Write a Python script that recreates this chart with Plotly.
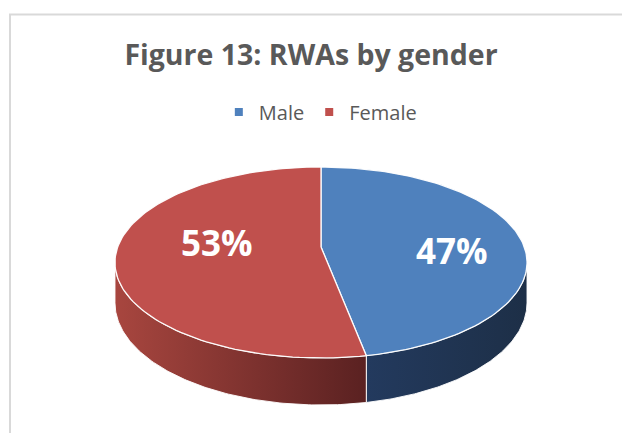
import math
import plotly.graph_objects as go

# ---- data ----
categories = ["Male", "Female"]
values = [47, 53]
label_texts = ["47%", "53%"]

# ---- style ----
top_colors = ["#4f81bd", "#c0504d"]
side_scales = [
    [[0, "#233a5e"], [1, "#1d2f47"]],
    [[0, "#a8463f"], [1, "#5a2121"]],
]
W, H = 622, 433
CX, CY = 321, 247          # projected pie centre (px)
A, B = 203.3, 93.0         # projected radii
K = 0.162                  # perspective factor
DEPTH = 39.4               # cylinder thickness
label_pos = [(452, 250), (217, 242)]


def proj(theta_deg, r=1.0, drop=0.0):
    t = math.radians(theta_deg)
    u, v = r * math.sin(t), r * math.cos(t)
    w = 1 + K * v
    return CX + A * u / w, CY - B * v / w + drop / w


def arc(t0, t1, drop=0.0, n=120):
    pts = [proj(t0 + (t1 - t0) * i / n, 1.0, drop) for i in range(n + 1)]
    return [p[0] for p in pts], [p[1] for p in pts]


fig = go.Figure()

total = sum(values)
angles = []
start = 0.0
for v in values:
    end = start + 360.0 * v / total
    angles.append((start, end))
    start = end

vis0 = math.degrees(math.acos(-K))
vis1 = 360 - vis0

# sides
for i, (a0, a1) in enumerate(angles):
    s0, s1 = max(a0, vis0), min(a1, vis1)
    if s1 <= s0:
        continue
    xt, yt = arc(s0, s1)
    xb, yb = arc(s0, s1, DEPTH)
    xs = xt + xb[::-1] + [xt[0]]
    ys = yt + yb[::-1] + [yt[0]]
    fig.add_trace(go.Scatter(
        x=xs, y=ys, mode="lines", fill="toself",
        fillgradient=dict(type="horizontal", colorscale=side_scales[i]),
        line=dict(color="rgba(255,255,255,0.9)", width=1),
        hoverinfo="skip", showlegend=False))

# tops
for i, (a0, a1) in enumerate(angles):
    xa, ya = arc(a0, a1)
    xs = [CX] + xa + [CX]
    ys = [CY] + ya + [CY]
    fig.add_trace(go.Scatter(
        x=xs, y=ys, mode="lines", fill="toself", fillcolor=top_colors[i],
        line=dict(color="rgba(255,255,255,0.95)", width=1.3),
        hoverinfo="skip", showlegend=False))

# legend entries
for i, name in enumerate(categories):
    fig.add_trace(go.Scatter(
        x=[None], y=[None], mode="markers", name=name,
        marker=dict(symbol="square", size=8, color=top_colors[i])))

# data labels
for i, txt in enumerate(label_texts):
    fig.add_annotation(
        x=label_pos[i][0], y=label_pos[i][1], text=txt, showarrow=False,
        font=dict(family="Open Sans", size=35, color="white", weight="bold"),
        xanchor="center", yanchor="middle")

fig.add_shape(type="path", path="M 10 460 L 10 14.5 L 660 14.5",
              line=dict(color="#d9d9d9", width=2), layer="below")

fig.update_layout(
    width=W, height=H,
    margin=dict(l=0, r=0, t=0, b=0),
    paper_bgcolor="white", plot_bgcolor="white",
    xaxis=dict(range=[0, W], visible=False, fixedrange=True),
    yaxis=dict(range=[H, 0], visible=False, fixedrange=True),
    title=dict(text="<b>Figure 13: RWAs by gender</b>",
               font=dict(family="Open Sans", size=28.5, color="#595959"),
               x=0.5, xanchor="center", y=1 - 55 / H, yanchor="middle"),
    legend=dict(orientation="h", x=0.515, xanchor="center",
                y=1 - 112 / H, yanchor="middle",
                font=dict(family="Open Sans", size=20, color="#595959"),
                bgcolor="rgba(0,0,0,0)"),
    showlegend=True,
)

fig.write_html("out.html", config={"displayModeBar": False},
               post_script="document.body.style.margin='0px';document.body.style.overflow='hidden';")
